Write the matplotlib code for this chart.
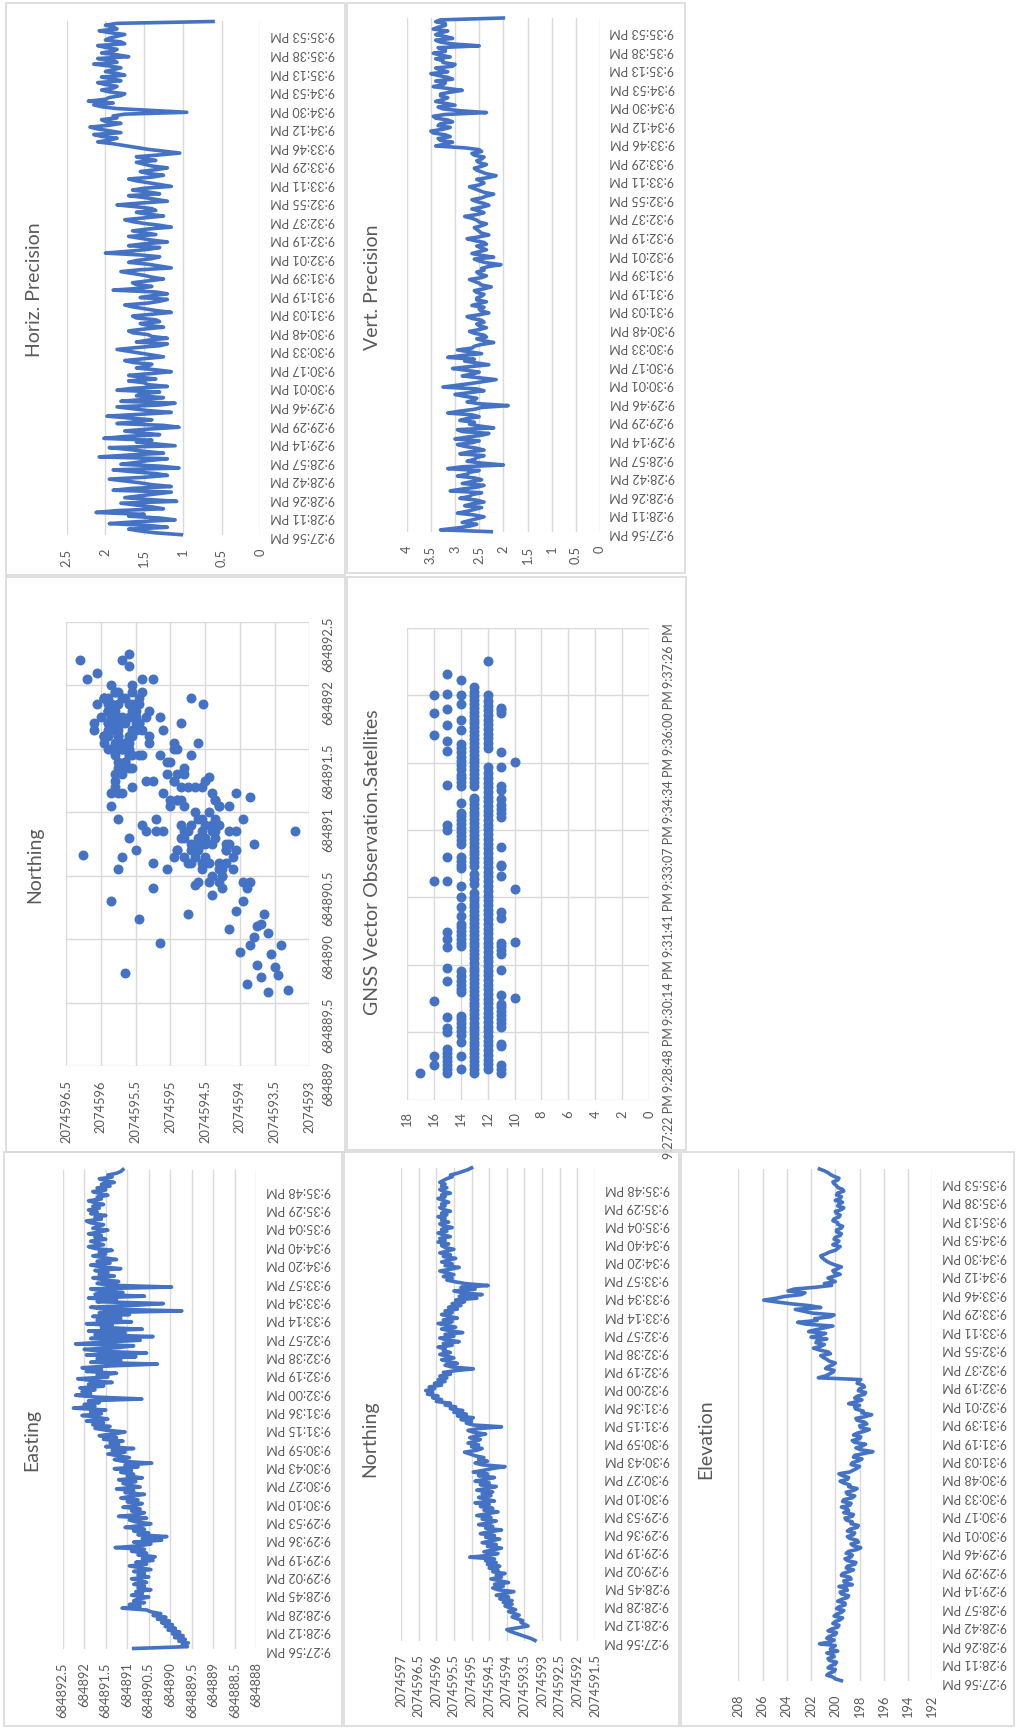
import numpy as np
import matplotlib
matplotlib.use("Agg")
import matplotlib.pyplot as plt
from matplotlib.patches import Rectangle

plt.rcParams['font.family'] = ['Lato', 'DejaVu Sans']

W, H = 1017, 1728
BLUE = "#4472C4"
GRID = "#D9D9D9"
TXT = "#595959"

# category labels
en_labels = ["9:27:56 PM", "9:28:12 PM", "9:28:28 PM", "9:28:45 PM", "9:29:02 PM", "9:29:19 PM",
             "9:29:36 PM", "9:29:53 PM", "9:30:10 PM", "9:30:27 PM", "9:30:43 PM", "9:30:59 PM",
             "9:31:15 PM", "9:31:36 PM", "9:32:00 PM", "9:32:19 PM", "9:32:38 PM", "9:32:57 PM",
             "9:33:14 PM", "9:33:34 PM", "9:33:57 PM", "9:34:20 PM", "9:34:40 PM", "9:35:04 PM",
             "9:35:29 PM", "9:35:48 PM"]
el_labels = ["9:27:56 PM", "9:28:11 PM", "9:28:26 PM", "9:28:42 PM", "9:28:57 PM", "9:29:14 PM",
             "9:29:29 PM", "9:29:46 PM", "9:30:01 PM", "9:30:17 PM", "9:30:33 PM", "9:30:48 PM",
             "9:31:03 PM", "9:31:19 PM", "9:31:39 PM", "9:32:01 PM", "9:32:19 PM", "9:32:37 PM",
             "9:32:55 PM", "9:33:11 PM", "9:33:29 PM", "9:33:46 PM", "9:34:12 PM", "9:34:30 PM",
             "9:34:53 PM", "9:35:13 PM", "9:35:38 PM", "9:35:53 PM"]
LABEL_EVERY = 10   # one category label per 10 samples

easting = [
    684890.85, 684889.60, 684889.72, 684889.58, 684889.80, 684889.65, 684889.90, 684889.70, 684889.95, 684889.78,
    684890.05, 684889.88, 684890.12, 684889.95, 684890.20, 684890.02, 684890.30, 684890.10, 684890.40, 684890.22,
    684890.45,
    684890.55, 684891.12, 684890.70, 684890.95, 684890.60, 684890.85, 684890.75, 684890.50, 684890.90, 684890.65,
    684890.80, 684890.45, 684890.75, 684890.60, 684890.85, 684890.55, 684890.70, 684890.90, 684890.50, 684890.75,
    684890.60, 684890.85, 684890.45, 684890.70, 684890.95, 684890.55, 684890.80, 684890.40, 684890.65, 684890.35,
    684890.75, 684890.55, 684890.90, 684890.60, 684891.28, 684890.70, 684890.45, 684890.85, 684890.20, 684890.65,
    684890.08, 684890.75, 684890.50, 684890.85, 684890.60, 684891.05, 684890.70, 684890.45, 684890.80, 684890.95,
    684890.55, 684891.20, 684890.75, 684890.60, 684890.90, 684890.70, 684891.10, 684890.80, 684890.65, 684891.00,
    684890.75, 684891.15, 684890.90, 684890.60, 684891.05, 684890.85, 684891.25, 684890.70, 684890.95, 684891.10,
    684890.80, 684891.20, 684890.65, 684891.00, 684890.85, 684891.15, 684890.90, 684891.30, 684890.75, 684891.05,
    684890.43, 684891.10, 684891.30, 684890.95, 684891.20, 684891.45, 684891.05, 684891.35, 684890.85, 684891.50,
    684891.20, 684891.40, 684891.10, 684891.55, 684891.25, 684891.65, 684891.30, 684891.05, 684891.50, 684891.75,
    684891.40, 684891.80, 684891.55, 684891.95, 684891.45, 684891.70, 684892.05, 684891.60, 684891.85, 684891.50,
    684892.25, 684891.75, 684892.00, 684891.65, 684891.90, 684890.66, 684891.70, 684892.20, 684891.85, 684892.05,
    684891.75, 684892.10, 684891.55, 684891.90, 684891.35, 684891.80, 684892.15, 684891.45, 684891.70, 684891.25,
    684891.95, 684891.60, 684892.05, 684891.40, 684890.30, 684891.85, 684891.15, 684891.70, 684890.80, 684891.95,
    684890.55, 684891.60, 684892.00, 684891.20, 684890.85, 684892.20, 684891.50, 684890.70, 684891.85, 684890.40,
    684891.75, 684891.05, 684891.90, 684890.65, 684891.60, 684891.35, 684891.95, 684890.90, 684891.70, 684891.15,
    684891.80, 684890.95, 684891.65, 684889.73, 684891.55, 684891.85, 684890.85, 684890.16, 684891.70, 684891.25,
    684891.90, 684890.60, 684891.75, 684891.10, 684891.60, 684891.85, 684889.97, 684891.45, 684891.70, 684891.20,
    684891.55, 684891.80, 684891.30, 684891.65, 684891.45, 684891.75, 684891.15, 684891.60, 684891.85, 684891.40,
    684891.70, 684891.25, 684891.55, 684891.80, 684891.50, 684891.65, 684891.35, 684891.75, 684891.90, 684891.55,
    684891.70, 684891.85, 684891.50, 684891.75, 684891.60, 684891.90, 684891.65, 684891.45, 684891.80, 684891.70,
    684891.55, 684891.85, 684891.95, 684891.60, 684891.75, 684891.50, 684891.85, 684891.70, 684891.90, 684891.65,
    684891.80, 684891.55, 684891.75, 684891.90, 684891.60, 684891.70, 684891.45, 684891.65, 684891.80, 684891.50,
    684891.70, 684891.40, 684891.60, 684891.30, 684891.50, 684891.65, 684891.35, 684891.45, 684891.25, 684891.15,
    684891.10]

northing = [
    2074593.20, 2074593.30, 2074593.45, 2074593.60, 2074593.75, 2074593.90, 2074594.00, 2074593.70, 2074593.40, 2074593.50,
    2074593.60, 2074593.55, 2074593.70, 2074593.85, 2074593.65, 2074593.80, 2074593.95, 2074593.75, 2074593.90, 2074594.05,
    2074593.85,
    2074594.10, 2074593.85, 2074594.20, 2074593.95, 2074594.30, 2074594.05, 2074593.80, 2074594.25, 2074594.40, 2074594.10,
    2074594.35, 2074593.95, 2074594.20, 2074594.45, 2074594.15, 2074594.30, 2074594.05, 2074594.40, 2074594.25, 2074594.50,
    2074594.20, 2074594.55, 2074594.30, 2074594.60, 2074594.35, 2074595.05, 2074594.50, 2074594.25, 2074594.65, 2074594.40,
    2074594.15, 2074594.55, 2074594.30, 2074594.70, 2074594.45, 2074594.20, 2074594.60, 2074594.35, 2074594.75, 2074594.50,
    2074594.15, 2074594.60, 2074594.40, 2074594.80, 2074594.50, 2074594.30, 2074594.70, 2074594.45, 2074594.85, 2074594.55,
    2074594.25, 2074594.65, 2074594.40, 2074594.75, 2074594.50, 2074594.90, 2074594.35, 2074594.60, 2074594.80, 2074594.45,
    2074594.70, 2074594.40, 2074594.85, 2074594.55, 2074594.30, 2074594.75, 2074594.50, 2074594.90, 2074594.60, 2074594.35,
    2074594.80, 2074594.55, 2074594.95, 2074594.65, 2074594.40, 2074594.05, 2074594.70, 2074594.90, 2074594.55, 2074594.80,
    2074594.65, 2074594.90, 2074595.05, 2074595.20, 2074594.85, 2074594.70, 2074595.00, 2074594.80, 2074595.10, 2074594.90,
    2074594.75, 2074595.05, 2074594.85, 2074594.60, 2074594.95, 2074595.10, 2074594.80, 2074594.15, 2074594.95, 2074595.15,
    2074595.00, 2074595.30, 2074594.95, 2074595.40, 2074595.15, 2074595.50, 2074595.25, 2074595.60, 2074595.45, 2074595.75,
    2074595.60, 2074596.00, 2074595.85, 2074596.10, 2074595.95, 2074596.25, 2074596.10, 2074596.30, 2074596.05, 2074596.20,
    2074595.85, 2074596.05, 2074595.75, 2074595.95, 2074595.70, 2074595.90, 2074595.60, 2074595.80, 2074595.45, 2074594.95,
    2074595.55, 2074595.75, 2074595.40, 2074595.65, 2074595.85, 2074595.50, 2074595.70, 2074595.90, 2074595.60, 2074595.80,
    2074595.75, 2074595.95, 2074595.55, 2074595.80, 2074595.35, 2074595.70, 2074595.90, 2074595.50, 2074595.75, 2074595.25,
    2074595.60, 2074595.85, 2074595.45, 2074595.70, 2074595.95, 2074595.55, 2074595.80, 2074595.40, 2074595.65, 2074595.85,
    2074595.55, 2074595.75, 2074595.40, 2074595.65, 2074595.30, 2074595.55, 2074595.20, 2074595.45, 2074594.85, 2074595.35,
    2074594.70, 2074595.25, 2074595.50, 2074594.90, 2074595.30, 2074594.53, 2074595.15, 2074595.45, 2074595.70, 2074595.55,
    2074595.80, 2074595.50, 2074595.70, 2074595.90, 2074595.60, 2074595.35, 2074595.75, 2074595.55, 2074595.85, 2074595.65,
    2074595.45, 2074595.80, 2074595.60, 2074595.90, 2074595.70, 2074595.50, 2074595.75, 2074595.85, 2074595.65, 2074595.95,
    2074595.75, 2074595.90, 2074595.60, 2074595.80, 2074595.95, 2074595.70, 2074595.85, 2074595.55, 2074595.80, 2074595.90,
    2074595.65, 2074595.85, 2074595.75, 2074595.95, 2074595.70, 2074595.85, 2074595.60, 2074595.80, 2074595.90, 2074595.75,
    2074595.85, 2074595.65, 2074595.80, 2074595.95, 2074595.75, 2074595.85, 2074595.60, 2074595.80, 2074595.90, 2074595.70,
    2074595.85, 2074595.75, 2074595.90, 2074595.80, 2074595.70, 2074595.55, 2074595.60, 2074595.40, 2074595.25, 2074595.10,
    2074595.00]

elevation = [
    199.5, 200.0, 200.2, 200.7, 200.5, 200.1, 200.0, 200.6, 200.4, 200.0, 199.9, 200.5, 200.6, 200.1, 200.2, 200.7, 199.8, 200.4, 200.3, 200.0,
    201.3, 200.4, 200.1, 200.7, 200.5, 200.0, 199.9, 200.6, 200.3, 199.8, 199.7, 200.2, 200.0, 199.6, 199.4, 200.1, 199.9, 199.5, 199.3, 199.9,
    199.7, 199.2, 199.2, 199.8, 199.5, 199.0, 198.9, 199.5, 199.6, 199.0, 199.1, 199.7, 198.6, 199.2, 199.3, 198.7, 198.8, 199.5, 199.4, 198.9,
    198.5, 199.1, 199.0, 198.4, 198.3, 199.0, 199.2, 198.7, 198.6, 199.1, 198.9, 198.2, 197.9, 198.5, 198.7, 198.1, 198.2, 198.8, 199.0, 198.5,
    198.4, 199.0, 198.8, 198.2, 198.1, 198.7, 198.6, 199.1, 199.2, 198.6, 198.5, 199.3, 198.9, 199.0, 199.5, 198.8, 198.7, 199.4, 199.3, 198.6,
    198.4, 199.0, 199.1, 198.5, 198.2, 198.9, 198.8, 199.3, 199.6, 199.0, 198.9, 199.4, 199.7, 198.8, 198.5, 198.2, 198.0, 198.7, 198.6, 198.1,
    197.8, 198.5, 198.4, 197.6, 196.9, 197.9, 198.3, 197.8, 197.5, 198.4, 198.6, 198.0, 197.9, 198.5, 198.2, 197.6, 197.2, 197.9, 198.0, 197.4,
    197.6, 198.2, 198.3, 197.5, 197.0, 197.8, 197.7, 198.3, 198.4, 198.0, 198.9, 198.3, 197.8, 198.4, 198.2, 197.6, 197.5, 198.1, 198.0, 197.6,
    197.7, 198.2, 198.1, 197.9, 201.4, 200.8, 200.5, 200.2, 200.1, 200.8, 200.6, 200.2, 200.0, 200.5, 200.7, 201.0, 201.2, 200.4, 200.6, 201.3,
    201.8, 201.2, 200.9, 201.6, 201.5, 200.7, 202.0, 201.3, 200.8, 202.2, 201.6, 200.9, 200.2, 202.4, 203.1, 201.5, 201.7, 200.4, 200.1, 201.9,
    202.6, 203.3, 201.2, 202.1, 203.6, 204.8, 205.9, 204.9, 204.2, 202.8, 202.5, 203.9, 203.4, 201.6, 200.3, 200.9, 200.0, 200.3, 200.6, 200.1,
    199.6, 200.1, 200.2, 199.8, 199.5, 200.0, 200.4, 200.7, 200.9, 201.1, 201.2, 200.8, 200.5, 200.0, 199.8, 199.6, 200.2, 199.9, 199.7, 200.1,
    200.0, 199.6, 199.5, 199.9, 199.9, 199.5, 199.4, 199.8, 199.8, 200.2, 200.1, 199.7, 199.6, 199.9, 200.0, 199.5, 199.3, 199.8, 199.7, 199.4,
    200.0, 199.6, 199.5, 199.9, 199.8, 199.3, 199.4, 199.8, 199.9, 200.1, 200.2, 199.8, 199.7, 200.1, 200.4, 200.6, 200.9, 201.3]

horiz_prec = [
    1.02, 1.35, 1.55, 1.70, 1.20, 1.45, 1.95, 1.60, 1.10, 1.30, 1.70, 1.50, 2.12, 1.85, 1.25, 1.40, 1.60, 1.80, 1.08, 1.45,
    1.75, 1.55, 1.35, 1.15, 1.90, 1.65, 1.15, 1.40, 1.55, 1.75, 1.95, 1.50, 1.20, 1.35, 1.65, 1.90, 1.05, 1.30, 1.80, 1.60,
    1.45, 1.20, 2.08, 1.70, 1.25, 1.50, 1.70, 1.95, 1.10, 1.35, 1.60, 1.40, 2.02, 1.75, 1.30, 1.55, 1.75, 1.45, 1.05, 1.25,
    1.85, 1.60, 1.40, 1.70, 1.98, 1.55, 1.15, 1.45, 1.65, 1.85, 1.30, 1.10, 1.80, 1.50, 1.25, 1.60, 1.55, 1.30, 1.85, 1.65,
    1.20, 1.45, 1.50, 1.70, 1.35, 1.55, 1.70, 1.40, 1.15, 1.35, 1.60, 1.45, 1.40, 1.65, 1.75, 1.50, 1.25, 1.40, 1.55, 1.70,
    1.85, 1.60, 1.30, 1.20, 1.60, 1.45, 1.20, 1.40, 1.45, 1.65, 1.70, 1.50, 1.25, 1.45, 1.55, 1.30, 1.35, 1.60, 1.65, 1.40,
    1.15, 1.35, 1.50, 1.65, 1.75, 1.45, 1.30, 1.20, 1.55, 1.40, 1.20, 1.35, 1.90, 1.55, 1.40, 1.60, 1.65, 1.45, 1.25, 1.40,
    1.50, 1.65, 1.80, 1.55, 1.15, 1.30, 1.45, 1.70, 1.60, 1.40, 1.30, 1.55, 2.00, 1.70, 1.45, 1.30, 1.70, 1.50, 1.20, 1.40,
    1.55, 1.70, 1.35, 1.50, 1.65, 1.45, 1.15, 1.30, 1.50, 1.65, 1.75, 1.50, 1.25, 1.45, 1.60, 1.35, 1.40, 1.60, 1.85, 1.55,
    1.20, 1.35, 1.50, 1.70, 1.30, 1.45, 1.65, 1.50, 1.15, 1.30, 1.45, 1.60, 1.70, 1.40, 1.25, 1.45, 1.55, 1.35, 1.20, 1.40,
    1.50, 1.60, 1.35, 1.50, 1.60, 1.30, 1.04, 1.25, 1.45, 1.60, 1.75, 1.90, 2.10, 1.95, 1.85, 2.05, 2.15, 1.80, 1.95, 2.10,
    2.20, 1.95, 1.80, 2.00, 2.05, 1.85, 1.90, 1.75, 0.95, 1.40, 1.85, 2.05, 2.15, 1.90, 2.22, 2.00, 1.95, 1.80, 1.75, 1.95,
    2.05, 1.90, 1.85, 2.00, 2.10, 1.80, 1.90, 2.05, 1.75, 1.85, 2.00, 1.90, 1.80, 1.95, 2.15, 1.85, 1.90, 2.10, 1.70, 1.85,
    2.05, 1.90, 1.85, 2.00, 2.10, 1.75, 1.80, 2.00, 1.95, 1.85, 1.75, 1.95, 2.08, 1.85, 1.90, 2.00, 1.85, 0.61]

vert_prec = [
    2.25, 3.30, 2.95, 2.70, 2.55, 2.85, 2.70, 2.55, 2.40, 2.60, 2.95, 2.75, 2.60, 2.45, 2.80, 2.65, 2.40, 2.55, 2.90, 2.70,
    2.65, 2.45, 3.10, 2.85, 2.55, 2.40, 2.85, 2.65, 2.45, 2.60, 2.95, 2.75, 2.70, 2.50, 3.15, 2.85, 2.00, 2.45, 2.75, 2.60,
    2.55, 2.40, 2.90, 2.70, 2.40, 2.55, 2.80, 2.95, 2.65, 2.50, 3.00, 2.75, 2.45, 2.30, 2.85, 2.95, 2.20, 2.50, 2.70, 2.60,
    2.90, 2.75, 2.50, 2.65, 3.15, 2.90, 2.60, 2.45, 1.90, 2.50, 2.75, 2.60, 2.55, 2.80, 3.00, 2.70, 2.40, 2.55, 3.25, 2.95,
    2.65, 2.40, 2.15, 2.50, 2.85, 2.65, 2.50, 2.75, 3.05, 2.70, 2.30, 2.55, 2.80, 2.60, 3.15, 2.85, 2.45, 2.70, 2.95, 2.65,
    2.60, 2.45, 2.20, 2.40, 2.55, 2.35, 2.40, 2.60, 2.70, 2.50, 2.35, 2.50, 2.55, 2.40, 2.45, 2.65, 2.75, 2.50, 2.30, 2.45,
    2.50, 2.40, 2.65, 2.50, 2.35, 2.55, 2.55, 2.45, 2.40, 2.55, 2.60, 2.40, 2.25, 2.45, 2.50, 2.60, 2.70, 2.45, 2.35, 2.50,
    2.55, 2.40, 2.45, 2.30, 2.05, 2.35, 2.50, 2.60, 2.20, 2.45, 2.65, 2.50, 2.35, 2.45, 2.55, 2.35, 2.40, 2.60, 2.75, 2.50,
    2.30, 2.45, 2.50, 2.55, 2.60, 2.45, 2.35, 2.50, 2.55, 2.65, 2.80, 2.55, 2.40, 2.50, 2.65, 2.45, 2.30, 2.40, 2.55, 2.65,
    2.45, 2.35, 2.20, 2.40, 2.50, 2.60, 2.70, 2.50, 2.40, 2.45, 2.55, 2.30, 2.15, 2.35, 2.45, 2.55, 2.60, 2.45, 2.35, 2.50,
    2.55, 2.45, 2.40, 2.60, 2.65, 2.45, 2.50, 2.80, 3.40, 3.20, 3.05, 3.30, 3.35, 3.10, 3.20, 3.45, 3.50, 3.25, 3.10, 3.35,
    3.30, 3.05, 3.15, 3.40, 3.45, 3.20, 2.35, 2.90, 3.25, 3.35, 3.00, 3.20, 3.40, 3.25, 3.15, 3.30, 3.30, 3.10, 2.85, 3.15,
    3.45, 3.25, 3.20, 3.40, 3.05, 3.15, 3.35, 3.50, 3.15, 3.30, 3.40, 3.05, 3.00, 3.25, 3.25, 3.40, 3.10, 3.30, 3.45, 3.20,
    3.20, 3.35, 2.50, 3.05, 3.30, 3.40, 3.05, 3.20, 3.40, 3.30, 3.15, 3.45, 3.35, 3.20, 3.20, 3.40, 3.30, 2.00]

# satellites: seconds after 9:27:56 PM at which each count was observed
sat_seconds = {
    17: [0],
    16: [10, 21, 92, 246, 433, 462, 484],
    15: [0, 5, 10, 15, 20, 26, 30, 52, 58, 71, 118, 135, 161, 172, 181, 246, 277, 311, 318, 369,
         413, 426, 446, 467, 486, 512],
    14: [5, 22, 39, 49, 54, 59, 64, 69, 73, 103, 108, 113, 118, 124, 130, 162, 167, 172, 177, 182,
         187, 191, 201, 213, 226, 240, 262, 267, 272, 277, 294, 299, 304, 309, 314, 319, 324, 329,
         333, 346, 368, 373, 378, 382, 390, 395, 400, 405, 411, 416, 421, 439, 453, 473, 485, 504],
    13: [0, 5, 10, 15, 20, 25, 30, 35, 40, 45, 50, 55, 59, 64, 70, 75, 80, 85, 90, 95, 100, 105,
         110, 115, 120, 125, 130, 135, 141, 147, 152, 157, 162, 167, 172, 177, 182, 187, 192, 197,
         202, 207, 212, 217, 222, 226, 230, 242, 248, 255, 265, 270, 275, 280, 285, 290, 295, 300,
         305, 310, 315, 320, 325, 330, 335, 340, 345, 350, 353, 368, 373, 378, 383, 388, 393, 398,
         403, 408, 413, 418, 423, 428, 433, 438, 443, 448, 453, 458, 463, 468, 473, 478, 483, 488,
         495],
    12: [5, 11, 17, 23, 29, 35, 41, 47, 53, 59, 65, 71, 77, 83, 89, 95, 101, 107, 113, 119, 125,
         131, 137, 143, 149, 155, 161, 167, 173, 179, 185, 191, 197, 203, 209, 215, 221, 227, 233,
         240, 246, 252, 258, 264, 270, 276, 282, 288, 294, 300, 306, 312, 318, 324, 330, 336, 342,
         348, 354, 360, 366, 372, 378, 384, 392, 417, 423, 429, 435, 441, 447, 453, 459, 465, 471,
         477, 485, 528],
    11: [0, 5, 10, 34, 37, 59, 64, 69, 74, 79, 84, 88, 100, 132, 152, 157, 162, 167, 199, 206, 252,
         265, 267, 289, 328, 333, 338, 343, 351, 363, 368, 392, 412, 461, 465, 468],
    10: [96, 168, 236, 399],
}
SAT_START = 21 * 3600 + 27 * 60 + 56  # 9:27:56 PM in seconds of day
sat_ticks = [0.894, 0.895, 0.896, 0.897, 0.898, 0.899, 0.900, 0.901]
sat_tick_labels = ["9:27:22 PM", "9:28:48 PM", "9:30:14 PM", "9:31:41 PM", "9:33:07 PM",
                   "9:34:34 PM", "9:36:00 PM", "9:37:26 PM"]

VAL_FS = 9.3
TIME_FS = 9.0
LW = 2.6
DOT = 38

fig = plt.figure(figsize=(W / 100, H / 100), dpi=100)


def rect(x0, y0, x1, y1):
    # pixel box (y from top) -> figure fraction
    return [x0 / W, 1 - y1 / H, (x1 - x0) / W, (y1 - y0) / H]


def border(x0, y0, x1, y1):
    fig.patches.append(Rectangle((x0 / W, 1 - y1 / H), (x1 - x0) / W, (y1 - y0) / H,
                                 transform=fig.transFigure, fill=False, edgecolor=GRID, lw=1.2))


def title(x, y, s):
    fig.text(x / W, 1 - y / H, s, rotation=90, ha='center', va='center', fontsize=14, color=TXT)


def fmt(v):
    return "{:.10g}".format(v)


def style(ax):
    for sp in ax.spines.values():
        sp.set_visible(False)
    ax.patch.set_alpha(0)
    ax.set_axisbelow(True)
    ax.tick_params(length=0, colors=TXT)


def line_panel(box, values, vmin, vmax, step, labels):
    ax = fig.add_axes(rect(*box))
    style(ax)
    ax.plot(values, range(len(values)), color=BLUE, lw=LW, clip_on=False,
            solid_joinstyle='round')
    ax.set_xlim(vmax, vmin)
    ax.set_ylim(0, len(values) - 1)
    ticks = np.arange(vmin, vmax + step / 2, step)
    ax.set_xticks(ticks)
    ax.set_xticklabels([fmt(t) for t in ticks], rotation=90, fontsize=VAL_FS)
    ax.set_yticks(range(0, LABEL_EVERY * len(labels), LABEL_EVERY))
    ax.set_yticklabels(labels, rotation=180, fontsize=TIME_FS)
    for t in ax.get_yticklabels():
        t.set_va('center')
    ax.yaxis.tick_right()
    ax.tick_params(axis='x', pad=10)
    ax.tick_params(axis='y', pad=7)
    ax.grid(axis='x', color=GRID, lw=1)
    ax.grid(axis='y', visible=False)
    return ax


# panel frames
border(6, 3, 345, 575)
border(347, 3, 685, 573)
border(6, 577, 345, 1152)
border(347, 577, 686, 1150)
border(4, 1152, 342, 1726)
border(344, 1152, 679, 1726)
border(681, 1152, 1014, 1726)

# line charts
line_panel((66.7, 21.5, 260.3, 534.7), horiz_prec, 0, 2.5, 0.5, el_labels)
title(35, 290, "Horiz. Precision")
line_panel((406.7, 18, 600, 531.7), vert_prec, 0, 4, 0.5, el_labels)
title(373, 287, "Vert. Precision")
line_panel((62.7, 1169.6, 256.3, 1648.5), easting, 684888, 684892.5, 0.5, en_labels)
title(32, 1440, "Easting")
line_panel((401, 1167.8, 595, 1640.5), northing, 2074591.5, 2074597, 0.5, en_labels)
title(370, 1439, "Northing")
line_panel((738.3, 1169, 932.3, 1680.7), elevation, 192, 208, 2, el_labels)
title(706, 1439, "Elevation")

# Northing vs Easting scatter
ax = fig.add_axes(rect(66, 622, 309.3, 1066))
style(ax)
ax.scatter(northing, easting, s=DOT, color=BLUE, zorder=3, clip_on=False)
ax.set_xlim(2074596.5, 2074593)
ax.set_ylim(684889, 684892.5)
nt = np.arange(2074593, 2074596.5 + 0.25, 0.5)
et = np.arange(684889, 684892.5 + 0.25, 0.5)
ax.set_xticks(nt)
ax.set_xticklabels([fmt(t) for t in nt], rotation=90, fontsize=VAL_FS)
ax.set_yticks(et)
ax.set_yticklabels([fmt(t) for t in et], rotation=90, fontsize=VAL_FS)
for t in ax.get_yticklabels():
    t.set_va('center')
ax.yaxis.tick_right()
ax.tick_params(axis='x', pad=10.5)
ax.tick_params(axis='y', pad=9)
ax.grid(color=GRID, lw=1)
title(35, 865, "Northing")

# satellites scatter
sat_n = []
sat_day = []
for n, secs in sat_seconds.items():
    for s in secs:
        sat_n.append(n)
        sat_day.append((SAT_START + s) / 86400)
ax = fig.add_axes(rect(406.7, 628, 649.3, 1099.6))
style(ax)
ax.scatter(sat_n, sat_day, s=DOT, color=BLUE, zorder=3, clip_on=False)
ax.set_xlim(18, 0)
ax.set_ylim(sat_ticks[0], sat_ticks[-1])
ax.set_xticks(range(0, 19, 2))
ax.set_xticklabels([str(v) for v in range(0, 19, 2)], rotation=90, fontsize=VAL_FS)
ax.set_yticks(sat_ticks)
ax.set_yticklabels(sat_tick_labels, rotation=90, fontsize=TIME_FS)
for t in ax.get_yticklabels():
    t.set_va('center')
ax.yaxis.tick_right()
ax.tick_params(axis='x', pad=8)
ax.tick_params(axis='y', pad=10)
ax.grid(color=GRID, lw=1)
title(373, 862, "GNSS Vector Observation.Satellites")

fig.savefig("out.png", dpi=100, facecolor="white")
